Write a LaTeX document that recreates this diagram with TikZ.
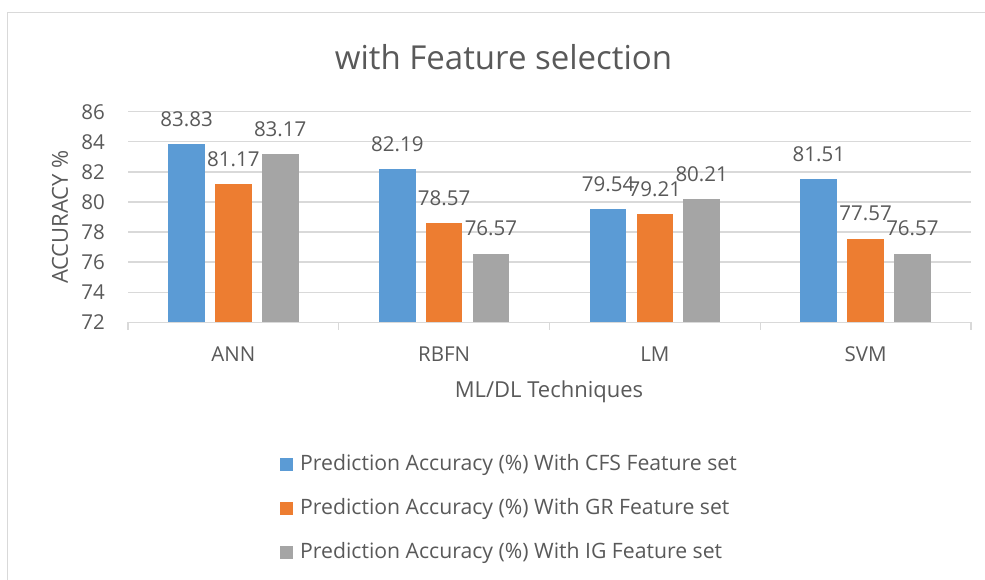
\documentclass[tikz,border=0pt]{standalone}
\usepackage{fontspec}
\setmainfont{Open Sans}
\definecolor{cfsblue}{HTML}{5B9BD5}
\definecolor{grorange}{HTML}{ED7D31}
\definecolor{iggray}{HTML}{A5A5A5}
\definecolor{txt}{HTML}{595959}
\definecolor{grid}{HTML}{D9D9D9}
\tikzset{
  lbl/.style={text=txt, inner sep=0pt, font=\fontsize{20.5}{24}\selectfont},
  leglbl/.style={text=txt, inner sep=0pt, font=\fontsize{21.2}{25}\selectfont},
  axtitle/.style={text=txt, inner sep=0pt, font=\fontsize{22}{26}\selectfont},
  gridline/.style={draw=grid, line width=1.3pt},
}
\begin{document}
\begin{tikzpicture}[x=1pt,y=-1pt]
\useasboundingbox (0,0) rectangle (985,580);
% frame
\draw[grid, line width=1.5pt] (7.5,580) -- (7.5,12.5) -- (985,12.5);
% title
\node[text=txt, inner sep=0pt, font=\fontsize{33}{37}\selectfont] (title) at (503.5,57) {with Feature selection};
% gridlines and y labels
\foreach \v in {72,74,...,86}{
  \pgfmathsetmacro\yy{322.3-(\v-72)*15.04}
  \draw[gridline] (128,\yy) -- (971,\yy);
  \node[lbl, anchor=east] (ytick\v) at (105,\yy) {\v};
}
% ticks
\foreach \k in {0,...,4}{
  \pgfmathsetmacro\xx{128+210.75*\k}
  \draw[gridline] (\xx,322.3) -- (\xx,330);
}
% bars
\foreach \cat/\a/\b/\c [count=\i from 0] in {ANN/83.83/81.17/83.17, RBFN/82.19/78.57/76.57, LM/79.54/79.21/80.21, SVM/81.51/77.57/76.57}{
  \pgfmathsetmacro\cx{128+210.75*(\i+0.5)}
  \node[lbl] (cat\i) at (\cx,354) {\cat};
  \foreach \val/\col/\j in {\a/cfsblue/-1, \b/grorange/0, \c/iggray/1}{
    \pgfmathsetmacro\bx{\cx+46.8*\j}
    \pgfmathsetmacro\top{322.3-(\val-72)*15.04}
    \fill[\col] (\bx-18.35,322.3) rectangle (\bx+18.35,\top);
    \node[lbl] (val\i\col) at (\bx,\top-25) {\val};
  }
}
% axis titles
\node[axtitle] (xtitle) at (549,392) {ML/DL Techniques};
\node[axtitle, rotate=90] (ytitle) at (60,217) {ACCURACY \%};
% legend
\foreach \col/\name/\yy in {cfsblue/CFS/464.5, grorange/GR/508.5, iggray/IG/552.5}{
  \fill[\col] (280,\yy-6.5) rectangle (293,\yy+6.5);
  \node[leglbl, anchor=west] (leg\name) at (300,\yy) {Prediction Accuracy (\%) With \name\ Feature set};
}
\end{tikzpicture}
\end{document}
